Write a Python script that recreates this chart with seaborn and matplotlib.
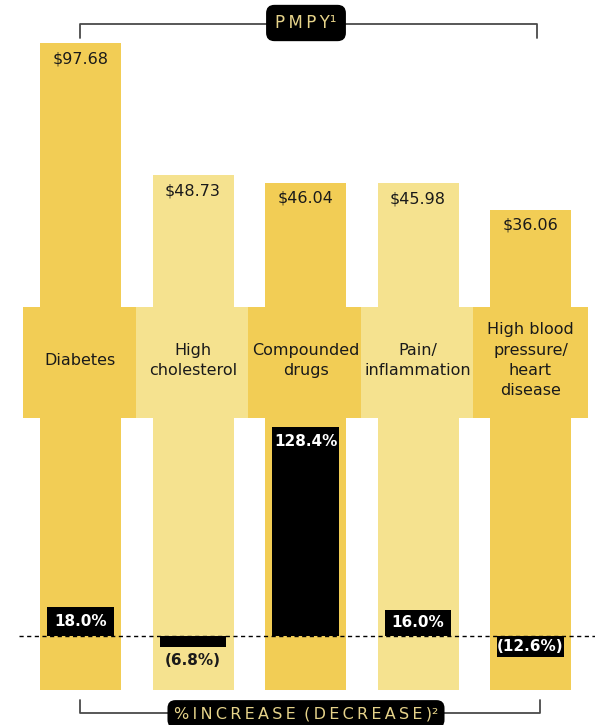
import matplotlib
matplotlib.use("Agg")
import matplotlib.pyplot as plt
import seaborn as sns
import pandas as pd
import numpy as np
from matplotlib.lines import Line2D

sns.set_theme(style="white")
plt.rcParams['font.family'] = ['Liberation Sans Narrow', 'DejaVu Sans']

# ---------------- data ----------------
categories = ["Diabetes", "High\ncholesterol", "Compounded\ndrugs",
              "Pain/\ninflammation", "High blood\npressure/\nheart\ndisease"]
pmpy = [97.68, 48.73, 46.04, 45.98, 36.06]
pmpy_labels = ["$97.68", "$48.73", "$46.04", "$45.98", "$36.06"]
pct_change = [18.0, -6.8, 128.4, 16.0, -12.6]
pct_labels = ["18.0%", "(6.8%)", "128.4%", "16.0%", "(12.6%)"]
top_title = "P\u2009M\u2009P\u2009Y\u00b9"
bottom_title = "%\u2009I\u2009N\u2009C\u2009R\u2009E\u2009A\u2009S\u2009E\u2009 (\u2009D\u2009E\u2009C\u2009R\u2009E\u2009A\u2009S\u2009E\u2009)\u00b2"

DARK = "#F2CD55"
LIGHT = "#F5E28F"
palette = [DARK, LIGHT, DARK, LIGHT, DARK]
TEXT = "#1a1a1a"

W, H = 595, 725
fig = plt.figure(figsize=(W / 100, H / 100), dpi=100)

def fy(y):
    return 1 - y / H

def fx(x):
    return x / W

n = len(categories)
xlim = (-80.5 / 112.5, (W - 80.5) / 112.5)
pos = np.arange(n)

df = pd.DataFrame({"cat": categories, "pmpy": pmpy, "pct": pct_change})

# ---------------- top bars (PMPY) ----------------
s_top = 2.703  # px per unit
ax_top = fig.add_axes([0, fy(307), 1, 307 / H])
sns.barplot(data=df, x="cat", y="pmpy", hue="cat", palette=palette,
            dodge=False, legend=False, width=0.72, saturation=1,
            linewidth=0, ax=ax_top)
ax_top.set_ylim(0, 307 / s_top)
ax_top.set_xlim(*xlim)
ax_top.axis("off")
for i, (v, lab) in enumerate(zip(pmpy, pmpy_labels)):
    ax_top.annotate(lab, (i, v), xytext=(0, -6), textcoords="offset points",
                    ha="center", va="top", fontsize=11.5, color=TEXT)

# ---------------- middle band ----------------
ax_mid = fig.add_axes([0, fy(418), 1, (418 - 307) / H])
ax_mid.bar(pos, 1, width=1.02, color=palette, linewidth=0)
ax_mid.set_ylim(0, 1)
ax_mid.set_xlim(*xlim)
ax_mid.axis("off")
for i, lab in enumerate(categories):
    ax_mid.text(i, 0.52, lab, ha="center", va="center", fontsize=11.5,
                color=TEXT, linespacing=1.45)

# ---------------- bottom bars (% change) ----------------
s_bot = 1.628
ax_bot = fig.add_axes([0, fy(690), 1, (690 - 418) / H])
ymin, ymax = -(690 - 636) / s_bot, (636 - 418) / s_bot
ax_bot.bar(pos, ymax - ymin, bottom=ymin, width=0.72, color=palette, linewidth=0)
ax_bot.plot([-0.55, xlim[1]], [0, 0], color="black", lw=1.0,
            linestyle=(0, (3, 2.5)), zorder=1)
sns.barplot(data=df, x="cat", y="pct", color="black", width=0.587,
            saturation=1, linewidth=0, ax=ax_bot, zorder=2)
ax_bot.set_ylim(ymin, ymax)
ax_bot.set_xlim(*xlim)
ax_bot.axis("off")
for i, (v, lab) in enumerate(zip(pct_change, pct_labels)):
    hpx = abs(v) * s_bot
    if v > 50:
        ax_bot.annotate(lab, (i, v), xytext=(0, -5), textcoords="offset points",
                        ha="center", va="top", fontsize=11, color="white",
                        fontweight="bold", zorder=3)
    elif hpx >= 18:
        ax_bot.text(i, v / 2, lab, ha="center", va="center", fontsize=11,
                    color="white", fontweight="bold", zorder=3)
    else:
        ax_bot.annotate(lab, (i, v), xytext=(0, -4), textcoords="offset points",
                        ha="center", va="top", fontsize=11, color=TEXT,
                        fontweight="bold", zorder=3)

# ---------------- brackets & headers ----------------
bc = "#4a4a4a"
fig.add_artist(Line2D([fx(80), fx(80), fx(537), fx(537)],
                      [fy(38), fy(24), fy(24), fy(38)], color=bc, lw=1.3))
fig.add_artist(Line2D([fx(80), fx(80), fx(540), fx(540)],
                      [fy(700), fy(713), fy(713), fy(700)], color=bc, lw=1.3))
fig.text(fx(306), fy(23), top_title, ha="center", va="center", fontsize=12,
         color="#E6D38A",
         bbox=dict(boxstyle="round,pad=0.55,rounding_size=0.5", fc="black", ec="none"))
fig.text(fx(306), fy(714), bottom_title, ha="center", va="center", fontsize=11.5,
         color="#E6D38A",
         bbox=dict(boxstyle="round,pad=0.4,rounding_size=0.5", fc="black", ec="none"))

fig.savefig("out.png", dpi=100)
